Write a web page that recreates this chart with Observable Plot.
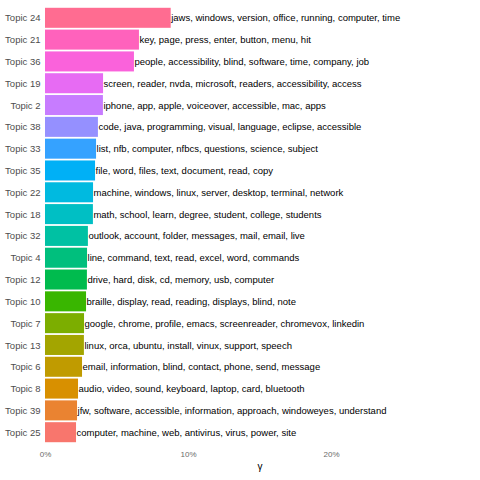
<!DOCTYPE html>
<html>
<head>
<meta charset="utf-8">
<script src="https://cdn.jsdelivr.net/npm/d3@7"></script>
<script src="https://cdn.jsdelivr.net/npm/@observablehq/plot@0.6"></script>
<style>
  html, body { margin: 0; padding: 0; background: #fff; }
</style>
</head>
<body>
<div id="chart"></div>
<script>
const topics = ["Topic 24","Topic 21","Topic 36","Topic 19","Topic 2","Topic 38","Topic 33","Topic 35","Topic 22","Topic 18","Topic 32","Topic 4","Topic 12","Topic 10","Topic 7","Topic 13","Topic 6","Topic 8","Topic 39","Topic 25"];
const gammas = [0.0879,0.0657,0.0622,0.0406,0.0405,0.0370,0.0357,0.0350,0.0336,0.0335,0.0300,0.0294,0.0293,0.0287,0.0273,0.0272,0.0259,0.0231,0.0224,0.0217];
const terms = [
  "jaws, windows, version, office, running, computer, time",
  "key, page, press, enter, button, menu, hit",
  "people, accessibility, blind, software, time, company, job",
  "screen, reader, nvda, microsoft, readers, accessibility, access",
  "iphone, app, apple, voiceover, accessible, mac, apps",
  "code, java, programming, visual, language, eclipse, accessible",
  "list, nfb, computer, nfbcs, questions, science, subject",
  "file, word, files, text, document, read, copy",
  "machine, windows, linux, server, desktop, terminal, network",
  "math, school, learn, degree, student, college, students",
  "outlook, account, folder, messages, mail, email, live",
  "line, command, text, read, excel, word, commands",
  "drive, hard, disk, cd, memory, usb, computer",
  "braille, display, read, reading, displays, blind, note",
  "google, chrome, profile, emacs, screenreader, chromevox, linkedin",
  "linux, orca, ubuntu, install, vinux, support, speech",
  "email, information, blind, contact, phone, send, message",
  "audio, video, sound, keyboard, laptop, card, bluetooth",
  "jfw, software, accessible, information, approach, windoweyes, understand",
  "computer, machine, web, antivirus, virus, power, site"
];
const colors = ["#FF6C91","#FF62BC","#FA62DB","#E76BF3","#C77CFF","#9590FF","#35A2FF","#00B0F6","#00BAE0","#00BFC4","#00C1A3","#00BF7D","#00BB4E","#39B600","#7CAE00","#A3A500","#C09B00","#D89000","#EA8331","#F8766D"];
const xTicks = [0, 0.1, 0.2];

const data = topics.map((t, i) => ({topic: t, gamma: gammas[i], terms: terms[i]}));

const chart = Plot.plot({
  width: 480,
  height: 480,
  marginLeft: 45,
  marginRight: 6,
  marginTop: 6,
  marginBottom: 36,
  style: {fontFamily: "Liberation Sans, Arial, sans-serif", background: "#fff"},
  x: {domain: [0, 0.30], axis: null},
  y: {domain: topics, axis: null, padding: 0.082, round: false},
  color: {domain: topics, range: colors},
  marks: [
    Plot.barX(data, {y: "topic", x: "gamma", fill: "topic"}),
    Plot.text(data, {y: "topic", x: "gamma", text: "terms", textAnchor: "start", dx: 0, fontSize: 9.5, fill: "#000"}),
    Plot.axisY({tickSize: 0, tickPadding: 5, fontSize: 9.5, color: "#4d4d4d", label: null}),
    Plot.axisX({ticks: xTicks, tickSize: 0, tickPadding: 7, fontSize: 8, color: "#6b6b6b",
      tickFormat: d => Math.round(d * 100) + "%", label: null}),
    Plot.text(["γ"], {frameAnchor: "bottom", dy: 25, fontSize: 10, fill: "#000"})
  ]
});
document.getElementById("chart").appendChild(chart);
</script>
</body>
</html>
